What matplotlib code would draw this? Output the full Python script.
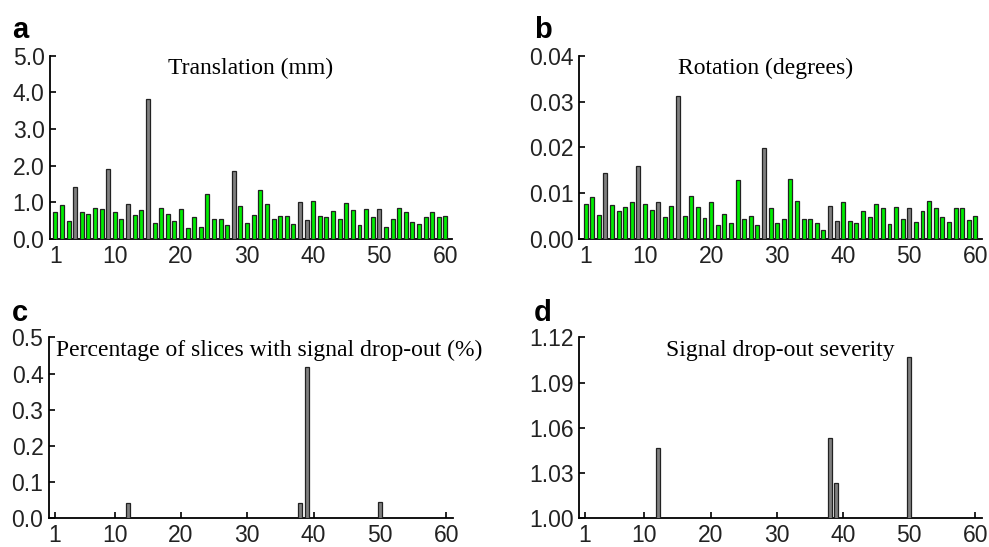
import numpy as np
import matplotlib
matplotlib.use("Agg")
import matplotlib.pyplot as plt
from matplotlib.ticker import FormatStrFormatter

plt.rcParams['font.family'] = ['Liberation Sans', 'DejaVu Sans']

subjects = np.arange(1, 61)
# subjects flagged (drawn in gray)
flagged = [4, 9, 12, 15, 28, 38, 39, 50]

translation = [0.74, 0.93, 0.49, 1.41, 0.74, 0.69, 0.86, 0.81, 1.91, 0.74,
               0.54, 0.95, 0.66, 0.78, 3.83, 0.44, 0.86, 0.69, 0.49, 0.81,
               0.30, 0.59, 0.33, 1.22, 0.56, 0.54, 0.39, 1.85, 0.91, 0.44,
               0.66, 1.35, 0.95, 0.54, 0.64, 0.62, 0.42, 1.01, 0.52, 1.03,
               0.64, 0.59, 0.76, 0.54, 0.98, 0.79, 0.37, 0.81, 0.59, 0.81,
               0.33, 0.56, 0.86, 0.74, 0.46, 0.42, 0.59, 0.74, 0.59, 0.62]

rotation = [0.0076, 0.0092, 0.0053, 0.0145, 0.0074, 0.0061, 0.0070, 0.0080, 0.0160, 0.0076,
            0.0064, 0.0080, 0.0049, 0.0072, 0.0312, 0.0051, 0.0093, 0.0070, 0.0047, 0.0080,
            0.0030, 0.0054, 0.0035, 0.0128, 0.0043, 0.0051, 0.0031, 0.0199, 0.0067, 0.0035,
            0.0043, 0.0131, 0.0082, 0.0043, 0.0043, 0.0035, 0.0020, 0.0072, 0.0039, 0.0080,
            0.0039, 0.0035, 0.0062, 0.0049, 0.0076, 0.0067, 0.0033, 0.0070, 0.0043, 0.0067,
            0.0037, 0.0061, 0.0084, 0.0067, 0.0049, 0.0037, 0.0067, 0.0067, 0.0041, 0.0051]

# only a few subjects have signal drop-out
dropout_subj = [12, 38, 39, 50]
dropout_pct = [0.042, 0.042, 0.419, 0.045]
dropout_sev = [1.0465, 1.0535, 1.0235, 1.107]

green = '#00ee00'
gray = '#808080'

fig = plt.figure(figsize=(9.89, 5.47), dpi=100)
ax_a = fig.add_axes([0.0506, 0.563, 0.4065, 0.335])
ax_b = fig.add_axes([0.5854, 0.563, 0.4075, 0.335])
ax_c = fig.add_axes([0.0495, 0.0530, 0.4085, 0.330])
ax_d = fig.add_axes([0.5854, 0.0530, 0.4075, 0.330])


def style(ax, yticks, fmt):
    for s in ['top', 'right']:
        ax.spines[s].set_visible(False)
    for s in ['left', 'bottom']:
        ax.spines[s].set_linewidth(1.3)
    ax.set_xlim(0.1, 61)
    ax.set_xticks([1, 10, 20, 30, 40, 50, 60])
    ax.set_yticks(yticks)
    ax.set_ylim(yticks[0], yticks[-1])
    ax.yaxis.set_major_formatter(FormatStrFormatter(fmt))
    ax.tick_params(direction='in', length=4, width=1.2, labelsize=16.5,
                   colors='black', labelcolor='#222222')
    ax.tick_params(axis='x', pad=4)
    ax.tick_params(axis='y', pad=4)


cols = [gray if s in flagged else green for s in subjects]

ax_a.bar(subjects, translation, width=0.6, color=cols, edgecolor='#222222', linewidth=0.9, zorder=3)
style(ax_a, [0, 1, 2, 3, 4, 5], '%.1f')
ax_a.set_xlim(0.2, 61)

ax_b.bar(subjects, rotation, width=0.6, color=cols, edgecolor='#222222', linewidth=0.9, zorder=3)
style(ax_b, [0, 0.01, 0.02, 0.03, 0.04], '%.2f')
ax_b.set_xlim(0.0, 61)

ax_c.bar(dropout_subj, dropout_pct, width=0.6, color=gray, edgecolor='#222222', linewidth=0.9, zorder=3)
style(ax_c, [0, 0.1, 0.2, 0.3, 0.4, 0.5], '%.1f')

ax_d.bar(dropout_subj, dropout_sev, width=0.6, color=gray, edgecolor='#222222', linewidth=0.9, zorder=3)
style(ax_d, [1.00, 1.03, 1.06, 1.09, 1.12], '%.2f')

serif = ['Liberation Serif', 'DejaVu Serif']
fig.text(0.253, 0.875, 'Translation (mm)', family=serif, fontsize=17, ha='center', va='center')
fig.text(0.774, 0.875, 'Rotation (degrees)', family=serif, fontsize=17, ha='center', va='center')
fig.text(0.057, 0.36, 'Percentage of slices with signal drop-out (%)', family=serif, fontsize=17,
         ha='left', va='center')
fig.text(0.789, 0.36, 'Signal drop-out severity', family=serif, fontsize=17, ha='center', va='center')

for lab, x, y in [('a', 0.012, 0.945), ('b', 0.540, 0.945), ('c', 0.012, 0.428), ('d', 0.540, 0.428)]:
    fig.text(x, y, lab, fontsize=21, fontweight='bold', ha='left', va='center')

fig.savefig('out.png', dpi=100)
